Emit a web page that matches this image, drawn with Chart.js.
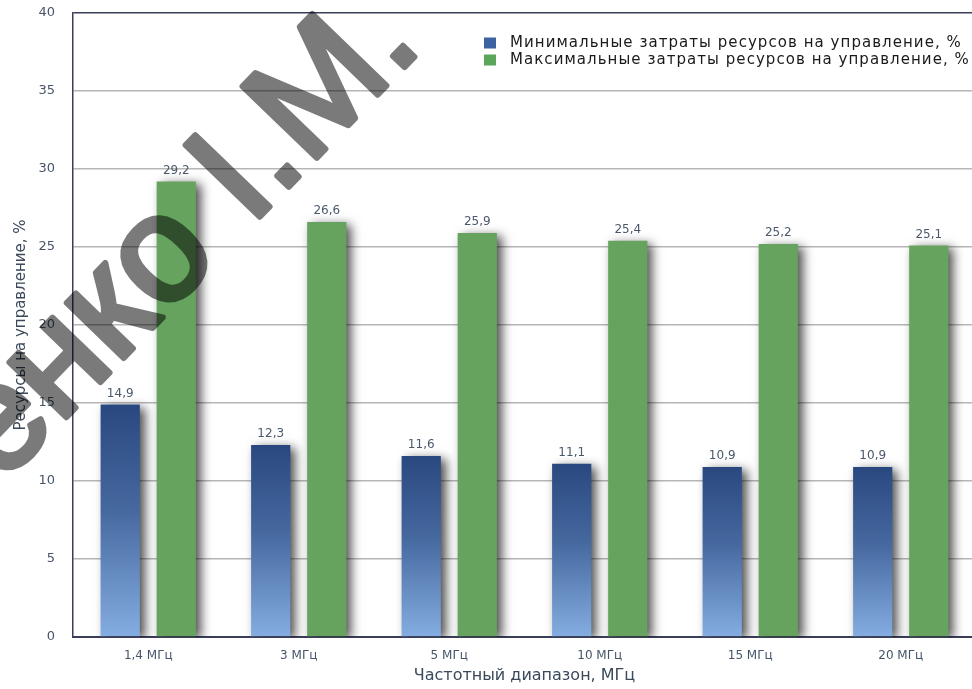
<!DOCTYPE html>
<html lang="ru">
<head>
<meta charset="utf-8">
<title>Ресурсы на управление</title>
<script src="https://cdn.jsdelivr.net/npm/chart.js@4.4.1/dist/chart.umd.min.js"></script>
<style>
  html, body { margin: 0; padding: 0; background: #ffffff; overflow: hidden; width: 972px; height: 689px; }
  #wrap { position: relative; width: 976px; height: 689px; }
</style>
</head>
<body>
<div id="wrap"><canvas id="chart"></canvas></div>
<script>
// Frequency bands and the share of resources spent on control
const categories = ['1,4 МГц', '3 МГц', '5 МГц', '10 МГц', '15 МГц', '20 МГц'];
const minCost = [14.9, 12.3, 11.6, 11.1, 10.9, 10.9];
const maxCost = [29.2, 26.6, 25.9, 25.4, 25.2, 25.1];
const seriesLabels = [
  'Минимальные затраты ресурсов на управление, %',
  'Максимальные затраты ресурсов на управление, %'
];
const yTickValues = [0, 5, 10, 15, 20, 25, 30, 35, 40];
const xTitle = 'Частотный диапазон, МГц';
const yTitle = 'Ресурсы на управление, %';
const stampText = 'енко I.M.';

const FONT = "'DejaVu Sans', 'Liberation Sans', Arial, sans-serif";
const TEXT_GREY = '#46546a';
const AXIS_DARK = '#3b3e5a';
const GREEN = '#65a35e';

function decimalComma(v) {
  return v.toFixed(1).replace('.', ',');
}

// vertical gradient for the blue bars: dark navy at the top, pale blue at the base
function blueFill(ctx) {
  const chart = ctx.chart;
  const y = chart.scales && chart.scales.y;
  if (ctx.type !== 'data' || !y || !chart.chartArea) return '#3f64a1';
  const top = y.getPixelForValue(ctx.raw);
  const base = y.getPixelForValue(0);
  const g = chart.ctx.createLinearGradient(0, top, 0, base);
  g.addColorStop(0, '#2a4880');
  g.addColorStop(0.45, '#45689f');
  g.addColorStop(1, '#84ade1');
  return g;
}

// soft drop shadow behind the bars
const barShadow = {
  id: 'barShadow',
  beforeDatasetsDraw(chart) {
    const c = chart.ctx;
    c.save();
    c.shadowColor = 'rgba(0,0,0,0.7)';
    c.shadowBlur = 10;
    c.shadowOffsetX = 5;
    c.shadowOffsetY = 3;
  },
  afterDatasetsDraw(chart) {
    chart.ctx.restore();
  }
};

// value captions above every bar
const valueLabels = {
  id: 'valueLabels',
  afterDatasetsDraw(chart) {
    const c = chart.ctx;
    c.save();
    c.font = '12px ' + FONT;
    c.fillStyle = '#4a586b';
    c.textAlign = 'center';
    c.textBaseline = 'middle';
    chart.data.datasets.forEach((ds, i) => {
      const meta = chart.getDatasetMeta(i);
      meta.data.forEach((bar, j) => {
        c.fillText(decimalComma(ds.data[j]), bar.x, bar.y - 11);
      });
    });
    c.restore();
  }
};

// legend in the upper right corner of the plot
const cornerLegend = {
  id: 'cornerLegend',
  afterDraw(chart) {
    const c = chart.ctx;
    c.save();
    c.font = '15px ' + FONT;
    if ('letterSpacing' in c) c.letterSpacing = '1.05px';
    c.textBaseline = 'middle';
    c.textAlign = 'left';
    const markers = ['#3c62a0', '#5aa65a'];
    chart.data.datasets.forEach((ds, i) => {
      const cy = 43 + i * 17;
      c.fillStyle = markers[i];
      c.fillRect(484, cy - 5.5, 12, 11);
      c.fillStyle = '#1a1a1a';
      c.fillText(ds.label, 510, cy);
    });
    c.restore();
  }
};

// author stamp across the drawing, painted solid on a layer and laid over translucently
const stamp = {
  id: 'stamp',
  afterDraw(chart) {
    const w = chart.width, h = chart.height;
    const layer = document.createElement('canvas');
    layer.width = w;
    layer.height = h;
    const l = layer.getContext('2d');
    l.translate(424, 47);
    l.rotate(-46 * Math.PI / 180);
    l.font = '150px "Liberation Sans", Arial, sans-serif';
    l.fillStyle = '#000';
    l.strokeStyle = '#000';
    l.lineWidth = 6;
    l.lineJoin = 'round';
    l.textAlign = 'right';
    l.textBaseline = 'alphabetic';
    l.fillText(stampText, 0, 0);
    l.strokeText(stampText, 0, 0);
    const c = chart.ctx;
    c.save();
    c.globalAlpha = 0.52;
    c.drawImage(layer, 0, 0, w, h);
    c.restore();
  }
};

new Chart(document.getElementById('chart'), {
  type: 'bar',
  data: {
    labels: categories,
    datasets: [
      {
        label: seriesLabels[0],
        data: minCost,
        backgroundColor: blueFill,
        borderWidth: 0,
        categoryPercentage: 0.745,
        barPercentage: 0.70
      },
      {
        label: seriesLabels[1],
        data: maxCost,
        backgroundColor: GREEN,
        borderWidth: 0,
        categoryPercentage: 0.745,
        barPercentage: 0.70
      }
    ]
  },
  options: {
    responsive: true,
    maintainAspectRatio: false,
    animation: false,
    devicePixelRatio: 1,
    layout: { padding: { top: 13, right: 0, bottom: 0, left: 0 } },
    plugins: {
      legend: { display: false },
      tooltip: { enabled: false }
    },
    scales: {
      x: {
        grid: { display: false, drawTicks: false },
        border: { display: true, color: AXIS_DARK, width: 2 },
        ticks: { color: TEXT_GREY, font: { family: FONT, size: 12 }, padding: 12 },
        title: {
          display: true, text: xTitle, color: '#3b495b',
          font: { family: FONT, size: 16 }, padding: { top: 0, bottom: 4 }
        },
        afterFit(scale) { scale.height = 52; }
      },
      y: {
        min: 0,
        max: 40,
        afterBuildTicks(scale) { scale.ticks = yTickValues.map(v => ({ value: v })); },
        grid: {
          drawTicks: false,
          color: ctx => (ctx.tick && ctx.tick.value === 40 ? AXIS_DARK : '#b6b6b6'),
          lineWidth: 1.5
        },
        border: { display: true, color: AXIS_DARK, width: 1.5 },
        ticks: { color: TEXT_GREY, font: { family: FONT, size: 13 }, padding: 18 },
        title: {
          display: true, text: yTitle, color: '#3b495b',
          font: { family: FONT, size: 15 }, padding: { top: 12, bottom: 0 }
        },
        afterFit(scale) {
          scale.width = 73;
          scale.paddingTop = 0;
          scale.paddingBottom = 0;
        }
      }
    }
  },
  plugins: [barShadow, valueLabels, cornerLegend, stamp]
});
</script>
</body>
</html>
